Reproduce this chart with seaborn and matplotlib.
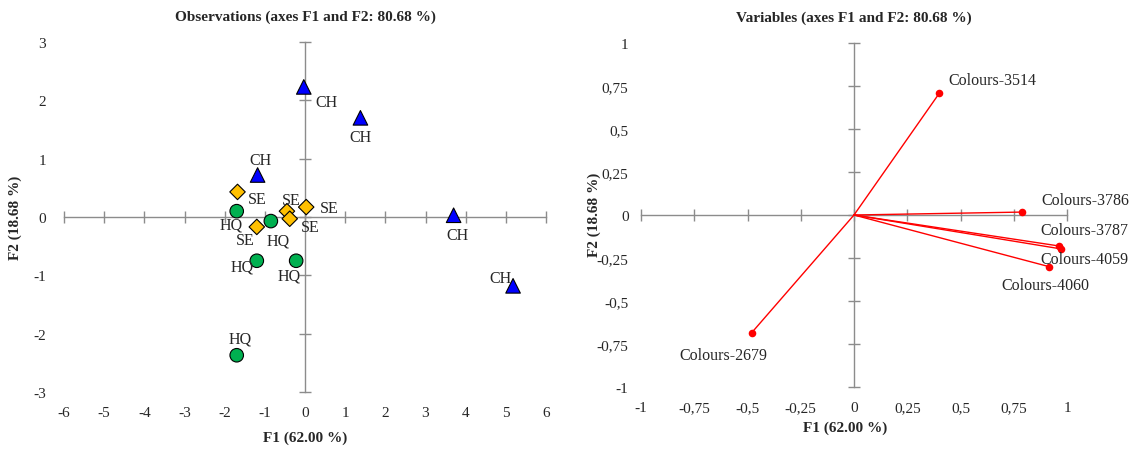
import numpy as np
import pandas as pd
import matplotlib
matplotlib.use("Agg")
import matplotlib.pyplot as plt
import seaborn as sns

# ---------------- data ----------------
obs_group = ["CH", "CH", "CH", "CH", "CH",
             "SE", "SE", "SE", "SE", "SE",
             "HQ", "HQ", "HQ", "HQ", "HQ"]
obs_f1 = [-0.03, 1.38, -1.18, 3.70, 5.18,
          -1.68, -0.45, 0.03, -0.38, -1.20,
          -1.70, -0.85, -1.20, -0.22, -1.70]
obs_f2 = [2.23, 1.70, 0.72, 0.03, -1.18,
          0.43, 0.10, 0.17, -0.03, -0.17,
          0.10, -0.07, -0.75, -0.75, -2.37]

var_names = ["Colours-3514", "Colours-3786", "Colours-3787",
             "Colours-4059", "Colours-4060", "Colours-2679"]
var_f1 = [0.40, 0.789, 0.962, 0.971, 0.915, -0.48]
var_f2 = [0.707, 0.017, -0.18, -0.197, -0.30, -0.684]

obs_xticks = [-6, -5, -4, -3, -2, -1, 0, 1, 2, 3, 4, 5, 6]
obs_yticks = [-3, -2, -1, 0, 1, 2, 3]
var_ticks = [-1, -0.75, -0.5, -0.25, 0, 0.25, 0.5, 0.75, 1]
var_ticklabels = ["-1", "-0,75", "-0,5", "-0,25", "0", "0,25", "0,5", "0,75", "1"]

title_obs = "Observations (axes F1 and F2: 80.68 %)"
title_var = "Variables (axes F1 and F2: 80.68 %)"
xlabel = "F1 (62.00 %)"
ylabel = "F2 (18.68 %)"

# label offsets (pixels) - styling only
obs_offsets = [(23, -15), (0, -19), (3, 15), (4, -20), (-13, 8),
               (20, -7), (4, 11), (23, -1), (21, -8), (-12, -13),
               (-6, -13), (7, -19), (-15, -6), (-7, -15), (3, 17)]
var_offsets = [(9, 13), (19, 12), (-19, 16), (-20, -10), (-48, -18), (-72, -22)]

# ---------------- style ----------------
sns.set_style("white")
plt.rcParams["font.family"] = ["Liberation Serif", "DejaVu Serif"]
plt.rcParams["font.size"] = 11

AXC = "#8c8c8c"

fig = plt.figure(figsize=(11.33, 4.56), dpi=100)
W, H = 1133, 456
ax1 = fig.add_axes([64 / W, (H - 393) / H, (546 - 64) / W, (393 - 43) / H])
ax2 = fig.add_axes([641 / W, (H - 388) / H, (1067 - 641) / W, (388 - 44) / H])


def cross_axes(ax, xlim, ylim, xticks, yticks, xlabels, ylabels, ylab_pad):
    ax.set_xlim(*xlim)
    ax.set_ylim(*ylim)
    for s in ["top", "right"]:
        ax.spines[s].set_visible(False)
    ax.spines["left"].set_position(("data", 0))
    ax.spines["bottom"].set_position(("data", 0))
    for s in ["left", "bottom"]:
        ax.spines[s].set_color(AXC)
        ax.spines[s].set_linewidth(1.0)
    ax.spines["bottom"].set_bounds(*xlim)
    ax.spines["left"].set_bounds(*ylim)
    ax.set_xticks(xticks)
    ax.set_yticks(yticks)
    ax.tick_params(axis="both", direction="inout", length=9, width=1.0,
                   color=AXC, bottom=True, left=True,
                   labelbottom=False, labelleft=False)
    ax.grid(False)
    ax.set_facecolor("none")
    # tick labels at outer edges
    sx = ax.secondary_xaxis(-0.0)
    sx.spines["bottom"].set_visible(False)
    sx.set_xticks(xticks)
    sx.set_xticklabels(xlabels)
    sx.tick_params(length=0, pad=10, labelsize=11)
    sy = ax.secondary_yaxis(0.0)
    sy.spines["left"].set_visible(False)
    sy.set_yticks(yticks)
    sy.set_yticklabels(ylabels)
    sy.tick_params(length=0, pad=ylab_pad, labelsize=11)
    return sx, sy


# ---------------- observations ----------------
df_obs = pd.DataFrame({"F1": obs_f1, "F2": obs_f2, "group": obs_group})
sx1, sy1 = cross_axes(ax1, (-6, 6), (-3, 3), obs_xticks, obs_yticks,
                      [str(t) for t in obs_xticks], [str(t) for t in obs_yticks], 13)

sns.scatterplot(data=df_obs, x="F1", y="F2", hue="group", style="group",
                size="group", sizes={"CH": 110, "SE": 62, "HQ": 95},
                palette={"CH": "#0000ff", "SE": "#ffc000", "HQ": "#00b050"},
                markers={"CH": "^", "SE": "D", "HQ": "o"},
                edgecolor="black", linewidth=0.8, legend=False, ax=ax1,
                zorder=5, clip_on=False)
for g, x, y, off in zip(obs_group, obs_f1, obs_f2, obs_offsets):
    ax1.annotate(g, (x, y), xytext=off, textcoords="offset pixels",
                 ha="center", va="center", fontsize=11.5, zorder=6)

ax1.set_title(title_obs, fontweight="bold", fontsize=11, pad=16)
ax1.set_xlabel("")
ax1.set_ylabel("")
fig.text(305 / W, 1 - 438 / H, xlabel, ha="center", va="center",
         fontweight="bold", fontsize=11)
fig.text(15 / W, 1 - 218 / H, ylabel, ha="center", va="center",
         rotation=90, fontweight="bold", fontsize=11)

# ---------------- variables ----------------
cross_axes(ax2, (-1, 1), (-1, 1), var_ticks, var_ticks,
           var_ticklabels, var_ticklabels, 9)
for name, x, y in zip(var_names, var_f1, var_f2):
    ax2.plot([0, x], [0, y], color="#ff0000", lw=1.0, zorder=4)
df_var = pd.DataFrame({"F1": var_f1, "F2": var_f2, "name": var_names})
sns.scatterplot(data=df_var, x="F1", y="F2", color="#ff0000", s=30,
                edgecolor="#ff0000", linewidth=0, legend=False, ax=ax2, zorder=5,
                clip_on=False)
for name, x, y, off in zip(var_names, var_f1, var_f2, var_offsets):
    ax2.annotate(name, (x, y), xytext=off, textcoords="offset pixels",
                 ha="left", va="center", fontsize=11.5, zorder=6)

ax2.set_title(title_var, fontweight="bold", fontsize=11, pad=16)
ax2.set_xlabel("")
ax2.set_ylabel("")
fig.text(845 / W, 1 - 428 / H, xlabel, ha="center", va="center",
         fontweight="bold", fontsize=11)
fig.text(594 / W, 1 - 215 / H, ylabel, ha="center", va="center",
         rotation=90, fontweight="bold", fontsize=11)

fig.savefig("out.png", dpi=100, facecolor="white")
